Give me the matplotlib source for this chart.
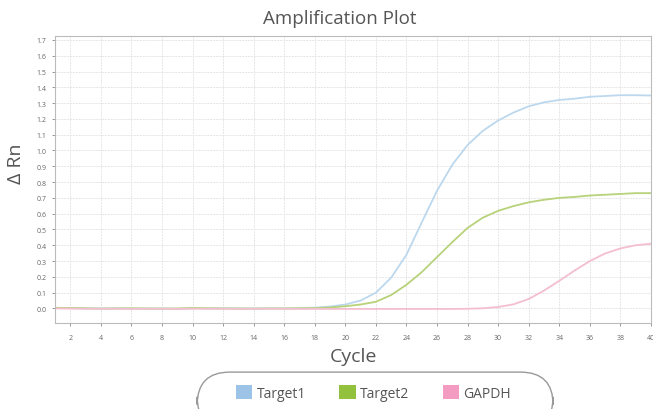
import matplotlib
matplotlib.use("Agg")
import matplotlib.pyplot as plt
from matplotlib.patches import Patch, FancyBboxPatch

plt.rcParams['font.family'] = ['Open Sans', 'DejaVu Sans']

cycles = list(range(1, 41))

target1 = [0.003, 0.002, 0.001, 0.000, 0.001, 0.000, -0.001, 0.000, -0.002, 0.001,
           0.000, 0.001, 0.000, 0.000, 0.001, 0.000, 0.002, 0.005, 0.012, 0.025,
           0.050, 0.100, 0.195, 0.340, 0.545, 0.745, 0.910, 1.035, 1.125, 1.190,
           1.240, 1.280, 1.305, 1.320, 1.328, 1.340, 1.345, 1.350, 1.350, 1.348]

target2 = [0.004, 0.003, 0.001, -0.001, 0.000, 0.001, 0.000, -0.001, 0.000, 0.003,
           0.001, 0.000, 0.000, -0.001, 0.000, 0.000, 0.001, 0.002, 0.006, 0.014,
           0.025, 0.042, 0.085, 0.150, 0.230, 0.325, 0.420, 0.510, 0.575, 0.618,
           0.648, 0.672, 0.688, 0.700, 0.706, 0.715, 0.720, 0.725, 0.730, 0.730]

gapdh = [0.000, -0.001, -0.002, -0.002, -0.002, -0.003, -0.002, -0.002, -0.003, -0.002,
         -0.002, -0.002, -0.003, -0.002, -0.002, -0.002, -0.003, -0.003, -0.003, -0.003,
         -0.003, -0.003, -0.003, -0.003, -0.003, -0.003, -0.003, -0.002, 0.001, 0.009,
         0.026, 0.060, 0.113, 0.175, 0.240, 0.300, 0.348, 0.380, 0.400, 0.410]

series_names = ["Target1", "Target2", "GAPDH"]
line_colors = ["#bcd8ee", "#b8d27a", "#f3bed0"]
legend_colors = ["#9dc3e6", "#92c13e", "#f39bc0"]

x_ticks = list(range(2, 41, 2))
y_ticks = [round(0.1 * i, 1) for i in range(0, 18)]

fig = plt.figure(figsize=(6.53, 4.10), dpi=100)
ax = fig.add_axes([0.0842, 0.2098, 0.9127, 0.700])

for vals, col in zip([target1, target2, gapdh], line_colors):
    ax.plot(cycles, vals, color=col, lw=1.3, solid_capstyle='round',
            solid_joinstyle='round')

ax.set_xlim(1, 40)
ax.set_ylim(-0.092, 1.725)
ax.set_xticks(x_ticks)
ax.set_xticklabels([str(t) for t in x_ticks])
ax.set_yticks(y_ticks)
ax.set_yticklabels([f"{t:.1f}" for t in y_ticks])
ax.tick_params(axis='both', labelsize=5, colors='#888888', length=2, width=0.6,
               labelcolor='#666666')
ax.tick_params(axis='x', pad=6)
ax.tick_params(axis='y', pad=4)
ax.grid(True, color='#e6e6e6', lw=0.7, linestyle=(0, (2, 1)))
ax.set_axisbelow(True)
for side in ['left', 'bottom', 'top', 'right']:
    ax.spines[side].set_color('#bbbbbb')
    ax.spines[side].set_linewidth(0.8)

ax.set_xlabel("Cycle", fontsize=14, color='#555555', labelpad=4)
ax.set_ylabel("\u0394 Rn", fontsize=14, color='#555555')
ax.yaxis.set_label_coords(-0.05, 0.56)
fig.text(0.52, 0.953, "Amplification Plot", ha='center', va='center',
         fontsize=13.5, color='#555555')

# rounded legend frame
frame = FancyBboxPatch((0.302, -0.05), 0.545, 0.14,
                       boxstyle="round,pad=0,rounding_size=0.05",
                       transform=fig.transFigure, facecolor='white',
                       edgecolor='#999999', lw=1.0, clip_on=False,
                       mutation_aspect=0.653 / 0.41)
fig.patches.append(frame)

handles = [Patch(facecolor=c, edgecolor='none', label=n)
           for c, n in zip(legend_colors, series_names)]
fig.legend(handles=handles, loc='center', bbox_to_anchor=(0.572, 0.04),
           ncol=3, frameon=False, fontsize=10, handlelength=1.2, handleheight=1.2,
           handletextpad=0.3, columnspacing=2.4, labelcolor='#555555')

fig.savefig("out.png", dpi=100)
